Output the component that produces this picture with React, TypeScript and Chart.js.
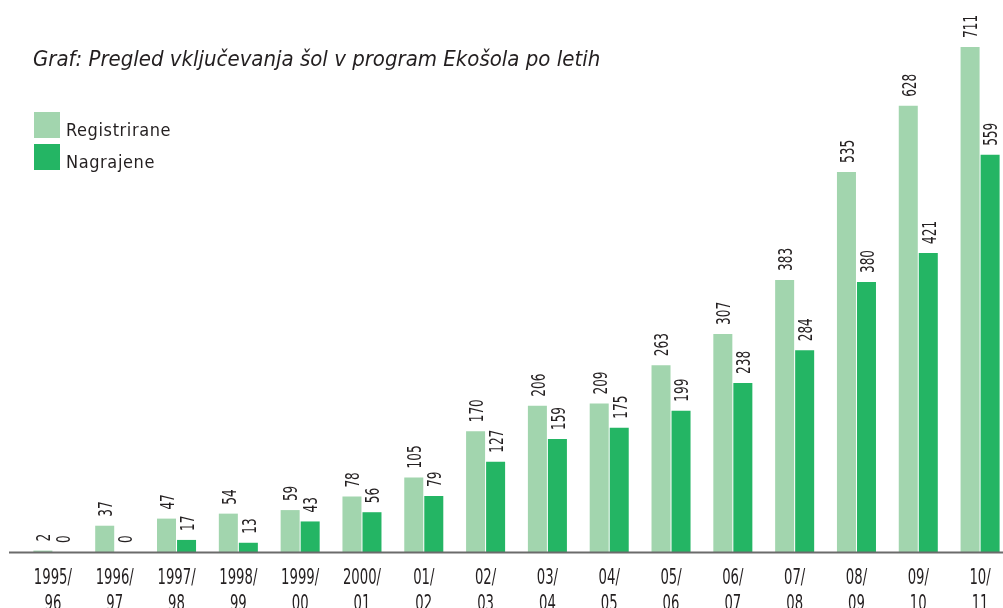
import React, { useEffect, useRef } from "react";
import { Chart, registerables } from "chart.js";

Chart.register(...registerables);

const categories: string[][] = [
  ["1995/", "96"], ["1996/", "97"], ["1997/", "98"], ["1998/", "99"],
  ["1999/", "00"], ["2000/", "01"], ["01/", "02"], ["02/", "03"],
  ["03/", "04"], ["04/", "05"], ["05/", "06"], ["06/", "07"],
  ["07/", "08"], ["08/", "09"], ["09/", "10"], ["10/", "11"],
];
const registrirane = [2, 37, 47, 54, 59, 78, 105, 170, 206, 209, 263, 307, 383, 535, 628, 711];
const nagrajene = [0, 0, 17, 13, 43, 56, 79, 127, 159, 175, 199, 238, 284, 380, 421, 559];
const seriesNames = ["Registrirane", "Nagrajene"];
const titleText = "Graf: Pregled vključevanja šol v program Ekošola po letih";

const LIGHT = "#A2D5AE";
const DARK = "#24B564";
const TEXT = "#231f20";
const FONT = "'DejaVu Sans Condensed', 'DejaVu Sans', sans-serif";

const valueLabels = {
  id: "valueLabels",
  afterDatasetsDraw(chart: any) {
    const ctx = chart.ctx;
    const size = 20;
    const cap = 0.73 * size;
    ctx.save();
    ctx.fillStyle = TEXT;
    ctx.font = `${size}px ${FONT}`;
    ctx.textBaseline = "alphabetic";
    ctx.textAlign = "left";
    chart.data.datasets.forEach((ds: any, di: number) => {
      const meta = chart.getDatasetMeta(di);
      meta.data.forEach((el: any, i: number) => {
        const v = ds.data[i];
        ctx.save();
        ctx.translate(el.x, el.y - 9);
        ctx.rotate(-Math.PI / 2);
        ctx.scale(0.67, 1);
        ctx.fillText(String(v), 0, cap / 2);
        ctx.restore();
      });
    });
    ctx.restore();
  },
};

const tickLabels = {
  id: "tickLabels",
  afterDraw(chart: any) {
    const ctx = chart.ctx;
    const xs = chart.scales.x;
    const bottom = chart.chartArea.bottom;
    ctx.save();
    ctx.fillStyle = TEXT;
    ctx.font = `21px ${FONT}`;
    ctx.textAlign = "center";
    ctx.textBaseline = "alphabetic";
    (chart.data.labels as string[][]).forEach((lab, i) => {
      const x = xs.getPixelForTick(i);
      lab.forEach((line, li) => {
        ctx.save();
        ctx.translate(x, bottom + 31.5 + li * 26);
        ctx.scale(0.7, 1);
        ctx.fillText(line, 0, 0);
        ctx.restore();
      });
    });
    ctx.restore();
  },
};

const baseline = {
  id: "baseline",
  afterDatasetsDraw(chart: any) {
    const ctx = chart.ctx;
    const y = chart.chartArea.bottom;
    ctx.save();
    ctx.strokeStyle = "#6b6b6b";
    ctx.lineWidth = 2;
    ctx.beginPath();
    ctx.moveTo(9, y + 0.5);
    ctx.lineTo(chart.width, y + 0.5);
    ctx.stroke();
    ctx.restore();
  },
};

export default function App() {
  const ref = useRef<HTMLCanvasElement>(null);
  useEffect(() => {
    if (!ref.current) return;
    const chart = new Chart(ref.current, {
      type: "bar",
      data: {
        labels: categories,
        datasets: [
          { label: seriesNames[0], data: registrirane, backgroundColor: LIGHT, categoryPercentage: 40 / 61.77, barPercentage: 0.95 },
          { label: seriesNames[1], data: nagrajene, backgroundColor: DARK, categoryPercentage: 40 / 61.77, barPercentage: 0.95 },
        ],
      },
      options: {
        responsive: false,
        animation: false,
        devicePixelRatio: 1,
        layout: { padding: { left: 22, right: 0, top: 0, bottom: 0 } },
        plugins: { legend: { display: false }, title: { display: false }, tooltip: { enabled: false } },
        scales: {
          x: {
            grid: { display: false, drawTicks: false },
            border: { display: false },
            ticks: { display: false, autoSkip: false },
            afterFit(scale: any) {
              scale.height = 56;
            },
          },
          y: { display: false, min: 0, max: 777 },
        },
      },
      plugins: [valueLabels, baseline, tickLabels],
    });
    return () => chart.destroy();
  }, []);

  return (
    <div style={{ position: "fixed", left: 0, top: 0, width: 1003, height: 608, overflow: "hidden", background: "#fff" }}>
      <canvas ref={ref} width={1011} height={608} style={{ position: "absolute", left: 0, top: 0, width: 1011, height: 608 }} />
      <div style={{ position: "absolute", left: 33, top: 45, fontFamily: FONT, fontStyle: "italic", fontSize: 22, color: TEXT, whiteSpace: "nowrap", lineHeight: "28px" }}>
        {titleText}
      </div>
      {seriesNames.map((name, i) => (
        <React.Fragment key={name}>
          <div style={{ position: "absolute", left: 34, top: 112 + i * 32, width: 26, height: 26, background: i === 0 ? LIGHT : DARK }} />
          <div style={{ position: "absolute", left: 66, top: 120 + i * 32, fontFamily: FONT, fontSize: 18, letterSpacing: "0.6px", color: TEXT, lineHeight: "19px", whiteSpace: "nowrap" }}>{name}</div>
        </React.Fragment>
      ))}
    </div>
  );
}
